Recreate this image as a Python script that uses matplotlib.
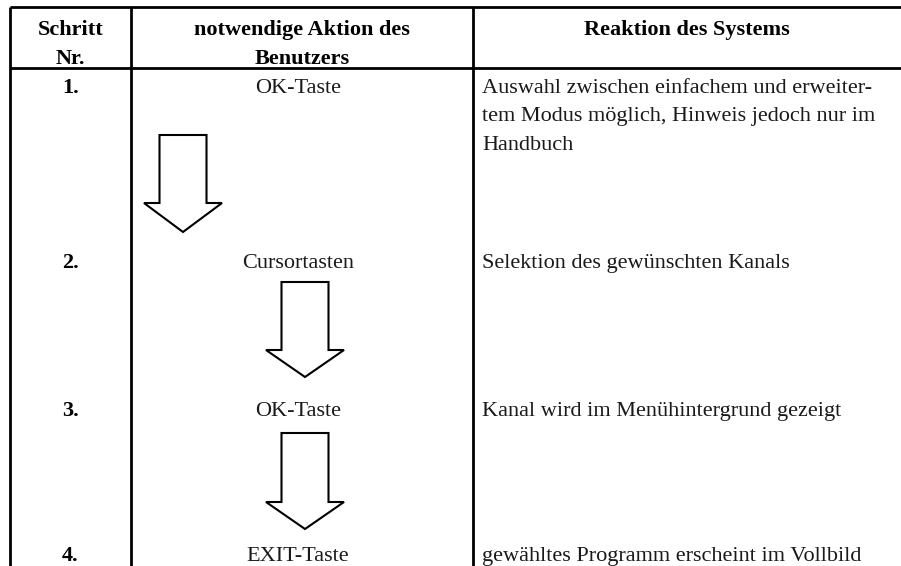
import matplotlib.pyplot as plt
from matplotlib.patches import Polygon

# table content
headers = [["Schritt", "Nr."], ["notwendige Aktion des", "Benutzers"], ["Reaktion des Systems"]]
steps = ["1.", "2.", "3.", "4."]
actions = ["OK-Taste", "Cursortasten", "OK-Taste", "EXIT-Taste"]
reactions = [
    ["Auswahl zwischen einfachem und erweiter-",
     "tem Modus möglich, Hinweis jedoch nur im",
     "Handbuch"],
    ["Selektion des gewünschten Kanals"],
    ["Kanal wird im Menühintergrund gezeigt"],
    ["gewähltes Programm erscheint im Vollbild"],
]

# layout in pixels
W, H = 901, 566
col_x = [10, 131, 473, W]
top_y, head_y = 7, 68
row_base = [93, 268, 416, 561]
line_h = 28.5
# arrows between rows: (center x, top, shoulder, tip)
arrows = [(183, 135, 203, 232), (305, 282, 350, 377), (305, 433, 502, 529)]
shaft_half, head_half = 23.5, 39

fig = plt.figure(figsize=(W / 100, H / 100), dpi=100)
ax = fig.add_axes([0, 0, 1, 1])
ax.set_xlim(0, W)
ax.set_ylim(H, 0)
ax.axis("off")

font = "Liberation Serif"
fs = 16
body_col = "#1a1a1a"

# grid lines
lw = 2.0
ax.plot([col_x[0], W], [top_y, top_y], color="black", lw=lw, solid_capstyle="butt")
ax.plot([col_x[0], W], [head_y, head_y], color="black", lw=lw, solid_capstyle="butt")
for x in col_x[:3]:
    ax.plot([x, x], [top_y, H], color="black", lw=lw, solid_capstyle="butt")

# header
centers = [(col_x[i] + col_x[i + 1]) / 2 for i in range(3)]
head_base = [35, 64]
for i, lines in enumerate(headers):
    for j, t in enumerate(lines):
        ax.text(centers[i], head_base[j], t, ha="center", va="baseline",
                fontsize=fs, fontweight="bold", family=font, color="black")

# rows
for i in range(len(steps)):
    y = row_base[i]
    ax.text(centers[0], y, steps[i], ha="center", va="baseline",
            fontsize=fs, fontweight="bold", family=font, color="black")
    ax.text(centers[1] - 4, y, actions[i], ha="center", va="baseline",
            fontsize=fs, family=font, color=body_col)
    for j, t in enumerate(reactions[i]):
        ax.text(col_x[2] + 9, y + j * line_h, t, ha="left", va="baseline",
                fontsize=fs, family=font, color=body_col)

# block arrows
for cx, t, s, tip in arrows:
    pts = [(cx - shaft_half, t), (cx + shaft_half, t), (cx + shaft_half, s),
           (cx + head_half, s), (cx, tip), (cx - head_half, s), (cx - shaft_half, s)]
    ax.add_patch(Polygon(pts, closed=True, facecolor="white", edgecolor="black", lw=1.5))

fig.savefig("out.png", dpi=100)
